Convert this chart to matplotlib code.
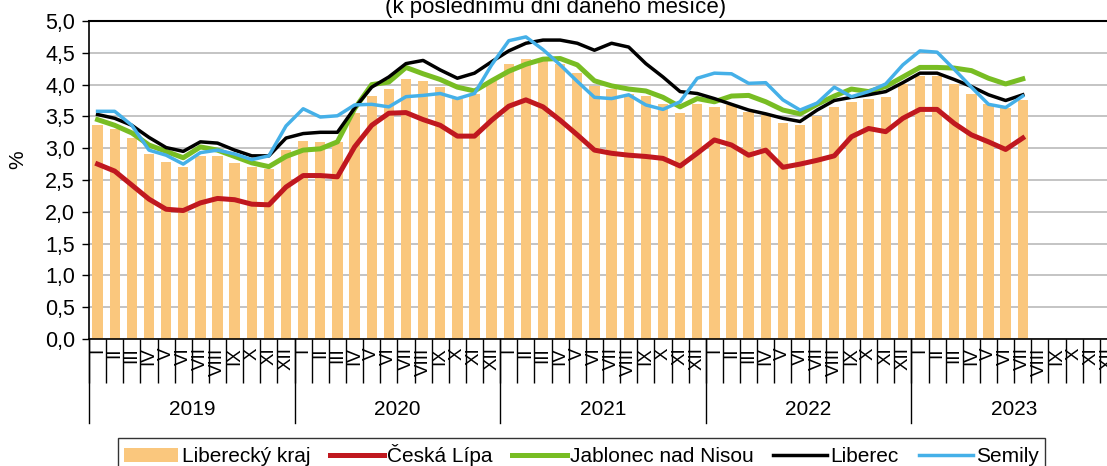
import numpy as np
import matplotlib
matplotlib.use("Agg")
import matplotlib.pyplot as plt

plt.rcParams["font.family"] = ["Liberation Sans", "DejaVu Sans"]

# ── Data: Jan 2019 .. Jul 2023 (monthly, %) ──────────────────────────────────
years = ["2019", "2020", "2021", "2022", "2023"]
months = ["I", "II", "III", "IV", "V", "VI", "VII", "VIII", "IX", "X", "XI", "XII"]

liberecky_kraj = [
    3.37, 3.30, 3.16, 2.91, 2.79, 2.71, 2.87, 2.87, 2.77, 2.70, 2.67, 2.97,
    3.12, 3.10, 3.09, 3.55, 3.82, 3.93, 4.09, 4.06, 3.96, 3.78, 3.86, 4.06,
    4.33, 4.41, 4.37, 4.33, 4.18, 3.98, 3.93, 3.86, 3.82, 3.69, 3.56, 3.69,
    3.65, 3.68, 3.57, 3.52, 3.39, 3.36, 3.50, 3.64, 3.73, 3.77, 3.81, 4.01,
    4.14, 4.14, 4.01, 3.86, 3.69, 3.63, 3.76,
]
ceska_lipa = [
    2.75, 2.64, 2.42, 2.20, 2.04, 2.02, 2.14, 2.21, 2.19, 2.12, 2.11, 2.39,
    2.57, 2.57, 2.55, 3.02, 3.36, 3.55, 3.56, 3.45, 3.36, 3.19, 3.19, 3.44,
    3.66, 3.76, 3.65, 3.44, 3.21, 2.97, 2.92, 2.89, 2.87, 2.84, 2.72, 2.92,
    3.13, 3.05, 2.89, 2.97, 2.70, 2.75, 2.81, 2.88, 3.18, 3.31, 3.26, 3.47,
    3.61, 3.61, 3.39, 3.21, 3.10, 2.98, 3.16,
]
jablonec = [
    3.45, 3.36, 3.24, 3.05, 2.95, 2.85, 3.02, 2.97, 2.87, 2.77, 2.71, 2.87,
    2.97, 2.99, 3.10, 3.62, 4.00, 4.04, 4.27, 4.17, 4.08, 3.96, 3.90, 4.06,
    4.21, 4.32, 4.40, 4.41, 4.31, 4.06, 3.98, 3.93, 3.90, 3.80, 3.65, 3.78,
    3.73, 3.82, 3.83, 3.73, 3.60, 3.54, 3.69, 3.82, 3.93, 3.89, 3.97, 4.12,
    4.27, 4.27, 4.26, 4.22, 4.10, 4.01, 4.09,
]
liberec = [
    3.53, 3.47, 3.36, 3.17, 3.01, 2.95, 3.10, 3.08, 2.97, 2.88, 2.88, 3.16,
    3.23, 3.25, 3.25, 3.63, 3.96, 4.12, 4.33, 4.38, 4.23, 4.10, 4.18, 4.36,
    4.53, 4.65, 4.70, 4.70, 4.65, 4.54, 4.65, 4.59, 4.33, 4.12, 3.89, 3.86,
    3.78, 3.69, 3.60, 3.54, 3.47, 3.42, 3.60, 3.75, 3.80, 3.84, 3.89, 4.03,
    4.18, 4.18, 4.08, 3.97, 3.84, 3.75, 3.84,
]
semily = [
    3.58, 3.58, 3.36, 2.97, 2.89, 2.75, 2.93, 2.97, 2.91, 2.82, 2.88, 3.35,
    3.62, 3.49, 3.51, 3.68, 3.69, 3.65, 3.81, 3.83, 3.86, 3.78, 3.86, 4.31,
    4.69, 4.75, 4.55, 4.31, 4.05, 3.80, 3.78, 3.84, 3.68, 3.61, 3.73, 4.10,
    4.18, 4.17, 4.02, 4.03, 3.76, 3.60, 3.71, 3.96, 3.81, 3.89, 4.01, 4.31,
    4.53, 4.51, 4.24, 3.96, 3.69, 3.64, 3.82,
]

n_slots = len(years) * len(months)
x = np.arange(len(liberecky_kraj)) + 0.5

W, H = 1107, 466
fig = plt.figure(figsize=(W / 100, H / 100), dpi=100)
ax = fig.add_axes([89 / W, (H - 339) / H, (1117 - 89) / W, (339 - 21) / H])

h_bar = ax.bar(x, liberecky_kraj, width=0.6, color="#FAC77D", label="Liberecký kraj", zorder=2)
h_cl, = ax.plot(x, ceska_lipa, color="#C0181F", lw=3.6, label="Česká Lípa", zorder=3)
h_jn, = ax.plot(x, jablonec, color="#78BD23", lw=3.6, label="Jablonec nad Nisou", zorder=3)
h_lb, = ax.plot(x, liberec, color="black", lw=2.5, label="Liberec", zorder=3)
h_se, = ax.plot(x, semily, color="#45B0E8", lw=2.5, label="Semily", zorder=3)

ax.set_xlim(0, n_slots)
ax.set_ylim(0, 5)
ax.yaxis.grid(True, color="#BFBFBF", lw=1.3, zorder=0)
ax.set_axisbelow(True)
ax.spines["right"].set_visible(False)
ax.spines["top"].set_linewidth(1.5)
ax.spines["left"].set_linewidth(1.2)
ax.spines["bottom"].set_linewidth(1.2)

yt = np.arange(0, 5.01, 0.5)
ax.set_yticks(yt)
ax.set_yticklabels([f"{v:.1f}".replace(".", ",") for v in yt], fontsize=15.5)
ax.tick_params(axis="y", length=5, width=1, pad=5)

# month boundaries as major ticks, month names at centres as minor ticks
ax.set_xticks(np.arange(0, n_slots + 1))
ax.set_xticklabels([])
ax.tick_params(axis="x", which="major", length=32, width=1, direction="out")
ax.set_xticks(np.arange(n_slots) + 0.5, minor=True)
ax.set_xticklabels(months * len(years), minor=True, rotation=90, fontsize=13.5)
ax.tick_params(axis="x", which="minor", length=0, pad=6)

tr = ax.get_xaxis_transform()
for k, yr in enumerate(years):
    ax.plot([12 * k, 12 * k], [0, -0.264], transform=tr, color="black", lw=1, clip_on=False)
    ax.text(12 * k + 6, -0.223, yr, transform=tr, ha="center", va="center", fontsize=15)
ax.plot([n_slots, n_slots], [0, -0.264], transform=tr, color="black", lw=1, clip_on=False)

fig.text(556 / W, (H - 12.7) / H, "(k poslednímu dni daného měsíce)", ha="center",
         va="baseline", fontsize=16)
fig.text(18 / W, (H - 160) / H, "%", rotation=90, ha="center", va="center", fontsize=15)

leg = fig.legend([h_bar, h_cl, h_jn, h_lb, h_se],
                 ["Liberecký kraj", "Česká Lípa", "Jablonec nad Nisou", "Liberec", "Semily"],
                 loc="upper left", bbox_to_anchor=(118 / W, (H - 438) / H), ncol=5,
                 fontsize=15, frameon=True, fancybox=False, edgecolor="black",
                 handlelength=2.6, handletextpad=0.15, columnspacing=0.95,
                 borderpad=0.3, borderaxespad=0)
leg.get_frame().set_linewidth(1.0)

fig.savefig("out.png", dpi=100)
